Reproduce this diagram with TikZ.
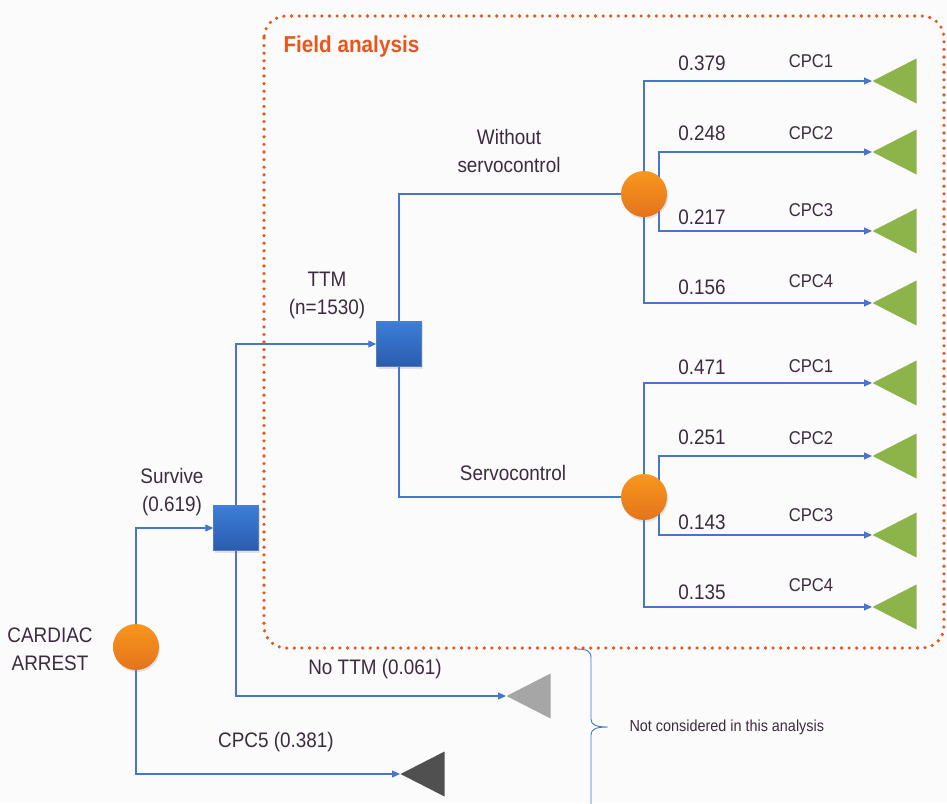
\documentclass[tikz,border=0pt]{standalone}
\usepackage{fontspec}
\setmainfont{Liberation Sans}[FakeStretch=0.9]
\usetikzlibrary{positioning}
\usetikzlibrary{shapes.geometric}
\usetikzlibrary{arrows.meta}
\usetikzlibrary{backgrounds}
\usetikzlibrary{shadows}
\definecolor{bg}{HTML}{FBFBFC}
\definecolor{linkblue}{HTML}{4576CC}
\definecolor{decA}{HTML}{3C7ED8}
\definecolor{decB}{HTML}{2A5CAE}
\definecolor{chanceA}{HTML}{F8971F}
\definecolor{chanceB}{HTML}{E4731A}
\definecolor{leafgreen}{HTML}{8DB34B}
\definecolor{leafgray}{HTML}{A6A6A6}
\definecolor{leafdark}{HTML}{505050}
\definecolor{fieldred}{HTML}{E8561C}
\definecolor{txt}{HTML}{3C2B3E}

\begin{document}
\begin{tikzpicture}[x=1pt,y=-1pt,
    link/.style={draw=linkblue,line width=1.1pt},
    arr/.style={link,-{Triangle[length=8pt,width=7pt]}},
    chance/.style={circle,minimum size=46pt,inner sep=0pt,top color=chanceA,bottom color=chanceB,
        drop shadow={opacity=0.2,shadow xshift=1pt,shadow yshift=-2pt}},
    decision/.style={rectangle,minimum size=45pt,inner sep=0pt,top color=decA,bottom color=decB,
        draw=decB!80!white,line width=0.4pt,drop shadow={opacity=0.2,shadow xshift=1pt,shadow yshift=-2pt}},
    leaf/.style={isosceles triangle,isosceles triangle stretches,shape border rotate=180,
        minimum width=45pt,minimum height=44pt,inner sep=0pt,anchor=apex},
    lbl/.style={text=txt,font=\fontsize{21}{28}\selectfont,align=center},
    cpc/.style={text=txt,font=\fontsize{18.5}{22}\selectfont}]
\useasboundingbox (0,0) rectangle (947,803);

% decision tree nodes
\node[chance] (ca) at (136,647) {};
\node[decision] (sv) at (236,528) {};
\node[decision] (ttm) at (399,344) {};
\node[chance] (wo) at (644,194) {};
\node[chance] (sc) at (644,497) {};
\coordinate (wo2) at (659,194);
\coordinate (sc2) at (659,497);

\node[leaf,fill=leafgray] (nottm) at (506,696) {};
\node[leaf,fill=leafdark] (cpc5) at (400,774) {};

\foreach \i/\yy/\pp/\py/\cy in {1/81/0.379/63/61,2/152/0.248/133/133,3/231/0.217/217/210,4/303/0.156/287/281}{
  \node[leaf,fill=leafgreen] (wleaf\i) at (872,\yy) {};
  \node[lbl] (wprob\i) at (702,\py) {\pp};
  \node[cpc] (wcpc\i) at (811,\cy) {CPC\i};
}
\foreach \i/\yy/\pp/\py/\cy in {1/383/0.471/367/366,2/456/0.251/437/438,3/535/0.143/522/515,4/607/0.135/592/585}{
  \node[leaf,fill=leafgreen] (sleaf\i) at (872,\yy) {};
  \node[lbl] (sprob\i) at (702,\py) {\pp};
  \node[cpc] (scpc\i) at (811,\cy) {CPC\i};
}

% labels
\node[lbl] (cal) at (50,649) {CARDIAC\\ARREST};
\node[lbl] (svl) at (172,492) {Survive\\(0.619)};
\node[lbl] (ttml) at (327,295) {TTM\\(n=1530)};
\node[lbl] (wol) at (509,151) {Without\\servocontrol};
\node[lbl] (scl) at (513,473) {Servocontrol};
\node[lbl] (nottml) at (375,669) {No TTM (0.061)};
\node[lbl] (cpc5l) at (276,742) {CPC5 (0.381)};
\node[text=txt,font=\fontsize{16}{20}\selectfont,anchor=west] (ncl) at (626,727) {Not considered in this analysis};
\node[text=fieldred,font=\fontsize{23}{26}\selectfont\bfseries,anchor=west] (fal) at (280,47) {Field analysis};

% connectors
\begin{scope}[on background layer]
\fill[bg] (0,0) rectangle (947,803);
\draw[arr] (ca.north) |- (sv.west);
\draw[arr] (ca.south) |- (cpc5.apex);
\draw[arr] (sv.north) |- (ttm.west);
\draw[arr] (sv.south) |- (nottm.apex);
\draw[link] (ttm.north) |- (wo.west);
\draw[link] (ttm.south) |- (sc.west);
\draw[arr] (wo.north) |- (wleaf1.apex);
\draw[arr] (wo2) |- (wleaf2.apex);
\draw[arr] (wo2) |- (wleaf3.apex);
\draw[arr] (wo.south) |- (wleaf4.apex);
\draw[arr] (sc.north) |- (sleaf1.apex);
\draw[arr] (sc2) |- (sleaf2.apex);
\draw[arr] (sc2) |- (sleaf3.apex);
\draw[arr] (sc.south) |- (sleaf4.apex);
\end{scope}

% brace
\draw[link,line width=0.9pt] (576,649) .. controls (587,649) and (591,651) .. (591,658) -- (591,719)
    .. controls (591,725) and (596,727) .. (608,727)
    .. controls (596,727) and (591,729) .. (591,735) -- (591,806);

\draw[fieldred,line width=3.6pt,line cap=round,dash pattern=on 0pt off 7.6pt,rounded corners=22pt] (264,16) rectangle (944,648);
\end{tikzpicture}
\end{document}
